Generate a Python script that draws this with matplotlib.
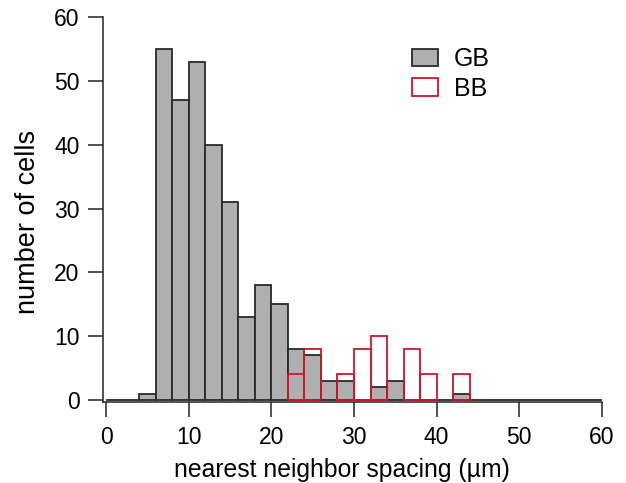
import numpy as np
import matplotlib
matplotlib.use("Agg")
import matplotlib.pyplot as plt
from matplotlib.patches import Patch

plt.rcParams['font.family'] = ['Liberation Sans', 'DejaVu Sans']

bin_edges = list(range(0, 62, 2))
gb_counts = [0, 0, 1, 55, 47, 53, 40, 31, 13, 18, 15, 8, 7, 3, 3,
             0, 2, 3, 0, 0, 0, 1, 0, 0, 0, 0, 0, 0, 0, 0]
bb_counts = [0, 0, 0, 0, 0, 0, 0, 0, 0, 0, 0, 4, 8, 0, 4,
             8, 10, 0, 8, 4, 0, 4, 0, 0, 0, 0, 0, 0, 0, 0]
x_ticks = [0, 10, 20, 30, 40, 50, 60]
y_ticks = [0, 10, 20, 30, 40, 50, 60]

GRAY = '#b0afaf'
EDGE = '#2a2a2a'
RED = '#d0142c'

W, H = 626, 483
fig = plt.figure(figsize=(W / 100, H / 100), dpi=100)
left, right, top, bottom = 103, 602, 17, 402
ax = fig.add_axes([left / W, (H - bottom) / H, (right - left) / W, (bottom - top) / H])

edges = np.array(bin_edges)
lefts = edges[:-1]
widths = np.diff(edges)
ax.bar(lefts, gb_counts, width=widths, align='edge', color=GRAY,
       edgecolor=EDGE, linewidth=1.3, zorder=2)
bb_l = [l for l, c in zip(lefts, bb_counts) if c > 0]
bb_w = [w for w, c in zip(widths, bb_counts) if c > 0]
bb_c = [c for c in bb_counts if c > 0]
ax.bar(bb_l, bb_c, width=bb_w, align='edge', fill=False,
       edgecolor=RED, linewidth=1.3, zorder=3)

ax.set_xlim(-0.363, 60)
ax.set_ylim(-0.31, 60)
ax.set_xticks(x_ticks)
ax.set_yticks(y_ticks)
for s in ['top', 'right']:
    ax.spines[s].set_visible(False)
for s in ['left', 'bottom']:
    ax.spines[s].set_linewidth(1.1)
    ax.spines[s].set_color('#222222')
ax.tick_params(direction='out', length=11, width=1.1, color='#222222',
               labelsize=16.5, pad=6)
ax.set_xlabel('nearest neighbor spacing (µm)', fontsize=17.8)
ax.set_ylabel('number of cells', fontsize=19.5)
ax.xaxis.label.set_va('baseline')
ax.xaxis.set_label_coords((341.5 - left) / (right - left), (bottom - 476.5) / (bottom - top))
ax.yaxis.set_label_coords((41 - left) / (right - left), (bottom - 221.5) / (bottom - top))

handles = [Patch(facecolor=GRAY, edgecolor=EDGE, linewidth=1.3),
           Patch(facecolor='white', edgecolor=RED, linewidth=1.3)]
fig.legend(handles, ['GB', 'BB'], loc='upper left',
           bbox_to_anchor=(412 / W, 1 - 47 / H), bbox_transform=fig.transFigure,
           frameon=False, fontsize=18, handlelength=1.04, handleheight=0.68,
           handletextpad=0.64, labelspacing=0.23, borderpad=0, borderaxespad=0)

fig.savefig('out.png', dpi=100)
